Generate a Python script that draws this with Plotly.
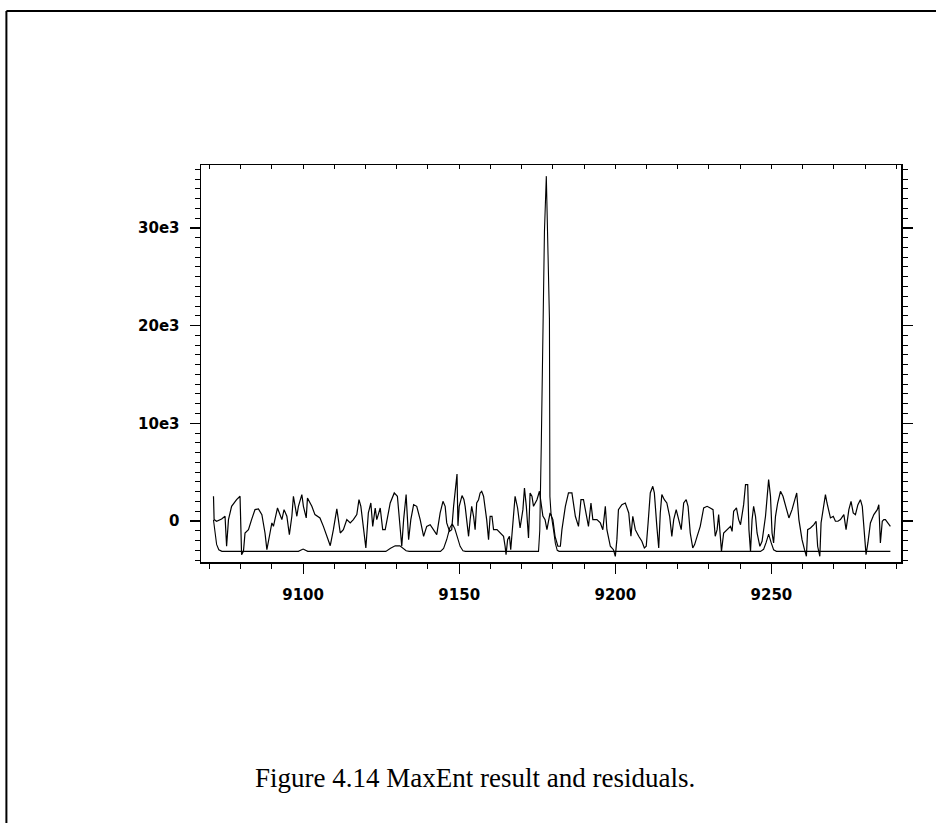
import plotly.graph_objects as go

# ---- data ----
res_x = [9071.3, 9071.5, 9072.3, 9073.9, 9075.0, 9075.5, 9076.1, 9077.1, 9078.7, 9079.8,
         9080.3, 9080.9, 9081.4, 9082.5, 9083.5, 9084.6, 9085.7, 9086.8, 9087.8, 9088.4,
         9089.4, 9090.0, 9090.5, 9091.3, 9091.8, 9092.4, 9093.2, 9093.9, 9094.8, 9095.6,
         9096.4, 9096.9, 9097.4, 9098.0, 9098.5, 9099.6, 9100.1, 9101.0, 9101.4, 9102.0,
         9102.8, 9103.8, 9105.4, 9106.5, 9107.6, 9108.7, 9109.7, 9110.8, 9111.3, 9111.9,
         9112.9, 9114.0, 9115.1, 9116.1, 9117.2, 9117.9, 9118.5, 9119.3, 9120.1, 9120.9,
         9121.7, 9122.3, 9123.1, 9123.6, 9124.7, 9125.5, 9126.3, 9127.9, 9129.2, 9130.2,
         9131.1, 9131.6, 9132.2, 9133.0, 9133.2, 9133.8, 9134.5, 9135.4, 9136.4, 9137.5,
         9138.6, 9139.6, 9140.7, 9141.8, 9142.8, 9143.9, 9144.8, 9145.5, 9146.0, 9146.9,
         9147.6, 9148.2, 9148.9, 9149.3, 9149.6, 9150.0, 9150.9, 9151.5, 9151.9, 9153.0,
         9153.5, 9154.0, 9154.6, 9155.1, 9155.6, 9156.2, 9156.7, 9157.2, 9157.8, 9158.3,
         9158.8, 9159.4, 9159.9, 9160.5, 9161.0, 9162.1, 9163.1, 9164.2, 9164.7, 9165.0,
         9165.5, 9166.1, 9166.5, 9167.2, 9167.9, 9168.7, 9169.5, 9170.4, 9170.9, 9171.5,
         9172.2, 9172.7, 9173.3, 9173.8, 9174.3, 9174.9, 9175.7, 9176.2, 9176.8, 9177.5,
         9178.1, 9179.1, 9180.0, 9180.7, 9181.6, 9182.4, 9182.9, 9184.0, 9185.0, 9186.1,
         9187.2, 9188.2, 9189.0, 9189.8, 9190.7, 9191.4, 9192.2, 9192.8, 9194.1, 9195.2,
         9196.0, 9196.8, 9197.3, 9198.4, 9199.4, 9200.0, 9200.5, 9201.0, 9202.1, 9203.2,
         9204.3, 9205.0, 9205.6, 9206.4, 9207.5, 9208.5, 9209.3, 9209.9, 9210.5, 9211.2,
         9212.0, 9212.5, 9213.3, 9213.9, 9214.4, 9214.9, 9215.7, 9216.5, 9217.4, 9218.1,
         9218.7, 9219.5, 9220.3, 9221.1, 9221.9, 9222.7, 9223.3, 9224.0, 9224.8, 9225.4,
         9226.2, 9227.2, 9228.3, 9229.4, 9230.4, 9231.3, 9232.0, 9232.6, 9233.1, 9233.6,
         9234.0, 9234.7, 9235.8, 9236.9, 9237.4, 9237.9, 9238.8, 9239.5, 9240.1, 9240.6,
         9241.1, 9241.7, 9242.4, 9242.8, 9243.3, 9243.8, 9244.3, 9244.9, 9245.4, 9246.3,
         9247.0, 9248.1, 9248.8, 9249.1, 9249.7, 9250.2, 9250.7, 9251.3, 9252.0, 9252.9,
         9253.7, 9254.5, 9255.6, 9256.6, 9257.4, 9258.1, 9258.8, 9259.8, 9260.6, 9261.2,
         9261.6, 9262.5, 9263.6, 9264.3, 9264.8, 9265.5, 9265.9, 9266.6, 9267.3, 9267.8,
         9268.9, 9269.8, 9270.5, 9271.3, 9272.1, 9273.2, 9273.9, 9274.8, 9275.5, 9276.2,
         9276.9, 9277.7, 9278.5, 9279.1, 9279.8, 9280.3, 9280.9, 9281.7, 9282.8, 9283.9,
         9284.4, 9284.9, 9285.5, 9286.0, 9286.5, 9287.3, 9288.1]
res_y = [2530, 140, -30, 200, 480, -2590, 140, 1500, 2180, 2530,
         -3450, -3110, -1230, -890, 140, 1160, 1230, 650, -1230, -2940,
         -1230, -200, -550, 480, 1330, 820, 140, 1160, 480, -1400,
         480, 2530, 1500, 480, 1500, 2700, 1500, 310, 2350, 2010,
         1500, 650, 310, -550, -1570, -2530, -890, 1230, 140, -1230,
         -890, 140, -200, 140, 650, 2180, 1500, -890, -2760, 820,
         1840, -550, 1330, 140, 1330, -890, -890, 1840, 2870, 2530,
         -890, -2590, 140, 2700, 1500, -1910, 140, 1670, 1500, 140,
         -1570, -550, -380, -890, -1400, 820, 2010, 1500, -200, -1060,
         -890, 1500, 3550, 4800, -500, 1500, 2600, 2200, 1500, -1570,
         140, 1500, 480, -890, 1840, 2180, 2870, 3040, 2530, 1500,
         140, -1910, 480, 480, -890, -890, -1230, -1570, -2590, -3450,
         -1910, -1570, -2940, 140, 2530, 1330, -720, 1160, 3380, 1500,
         -1740, 2870, 2530, 1500, 1840, 2180, 3040, 2000, 500, 140,
         -890, 820, 140, -1570, -2590, -2590, -890, 1500, 2870, 2870,
         480, -550, 2180, 2180, 480, -550, 1840, 140, 140, -200,
         -890, 1500, -890, -2590, -2940, -3620, -1910, 1160, 1670, 1840,
         820, -1570, 480, -890, -1570, -2080, -2760, -2590, -200, 2870,
         3550, 2870, -550, -2760, 820, 2700, 2180, 1840, 480, -1570,
         140, 1160, 140, -890, 1840, 2180, 1500, -1230, -2760, -2420,
         -1570, -550, 1330, 1500, 1330, 1160, -1570, -890, 650, -1570,
         -3110, -1230, -890, -550, -1060, 990, 1330, 140, -380, 480,
         1670, 3720, 3720, -890, -3110, 140, 1500, 480, -1230, -2590,
         -2080, 480, 3210, 4230, 2530, -1230, -2250, 480, 1840, 3040,
         2530, 1500, 310, 1160, 2180, 2870, 140, -1910, -2940, -3620,
         -890, -720, -380, -30, -2590, -3620, -200, 1500, 2700, 1840,
         310, 480, -30, -30, 140, 650, -890, 1160, 2010, 820,
         650, 1670, 2180, 1500, -1570, -3450, -2250, -200, 650, 1160,
         1670, -2250, -30, 140, 140, -200, -550]

maxent_x = [9071.3, 9071.7, 9072.3, 9073.0, 9074.0, 9098.5, 9100.0, 9101.5,
            9126.5, 9128.0, 9129.5, 9131.0, 9132.0, 9133.0, 9134.0,
            9144.0, 9145.0, 9146.0, 9147.0, 9147.8, 9148.6, 9149.5, 9150.3, 9151.2, 9152.0,
            9175.4, 9175.8, 9176.3, 9176.8, 9177.3, 9177.9, 9178.3, 9178.9, 9179.05,
            9179.4, 9180.2, 9180.8, 9181.4, 9182.0,
            9246.5, 9247.5, 9248.3, 9249.1, 9249.9, 9250.7, 9251.6, 9288.1]
maxent_y = [100, -1200, -2400, -2950, -3110, -3110, -2870, -3110,
            -3110, -2800, -2550, -2550, -2800, -3050, -3110,
            -3110, -2800, -1900, -700, -300, -800, -1800, -2600, -3050, -3110,
            -3110, -1000, 8000, 20700, 29600, 35300, 30500, 20700, 2500,
            800, -900, -2300, -3000, -3110,
            -3110, -2900, -2200, -1350, -2200, -2950, -3110, -3110]

y_tickvals = [0, 10000, 20000, 30000]
y_ticktext = ["0", "10e3", "20e3", "30e3"]
x_tickvals = [9100, 9150, 9200, 9250]
x_ticktext = ["9100", "9150", "9200", "9250"]

X_RANGE = [9067.3, 9291.5]
Y_RANGE = [-4200, 36440]

tick_font = dict(family="DejaVu Sans", size=15, color="black", weight="bold")

fig = go.Figure()
fig.add_trace(go.Scatter(x=res_x, y=res_y, mode="lines",
                         line=dict(color="black", width=1.2), showlegend=False,
                         hoverinfo="skip"))
fig.add_trace(go.Scatter(x=maxent_x, y=maxent_y, mode="lines",
                         line=dict(color="black", width=1.1), showlegend=False,
                         hoverinfo="skip"))
fig.add_trace(go.Scatter(x=[None], y=[None], xaxis="x2", yaxis="y2",
                         showlegend=False, hoverinfo="skip"))

fig.update_layout(
    width=936, height=823,
    margin=dict(l=201, r=35, t=165, b=261),
    paper_bgcolor="white", plot_bgcolor="white",
    showlegend=False,
    xaxis=dict(range=X_RANGE, showgrid=False, zeroline=False,
               showline=True, linecolor="black", linewidth=1.5,
               tickmode="array", tickvals=x_tickvals, ticktext=x_ticktext,
               ticks="outside", ticklen=10, tickwidth=1.2, tickcolor="black",
               tickfont=tick_font, ticklabelstandoff=8,
               minor=dict(dtick=10, tick0=9100, ticks="outside", ticklen=5,
                          tickwidth=1, tickcolor="black", showgrid=False)),
    yaxis=dict(range=Y_RANGE, showgrid=False, zeroline=False,
               showline=True, linecolor="black", linewidth=1.5,
               tickmode="array", tickvals=y_tickvals, ticktext=y_ticktext,
               ticks="outside", ticklen=10, tickwidth=1.2, tickcolor="black",
               tickfont=tick_font, ticklabelstandoff=7,
               minor=dict(dtick=1000, tick0=0, ticks="outside", ticklen=5,
                          tickwidth=1, tickcolor="black", showgrid=False)),
    xaxis2=dict(range=X_RANGE, overlaying="x", side="top", anchor="y",
                showgrid=False, zeroline=False, showline=True,
                linecolor="black", linewidth=1.5, showticklabels=False,
                tickmode="linear", tick0=9100, dtick=10,
                ticks="inside", ticklen=4, tickwidth=1, tickcolor="black"),
    yaxis2=dict(range=Y_RANGE, overlaying="y", side="right", anchor="x",
                showgrid=False, zeroline=False, showline=True,
                linecolor="black", linewidth=1.5, showticklabels=False,
                tickmode="array", tickvals=y_tickvals,
                ticks="outside", ticklen=10, tickwidth=1.2, tickcolor="black",
                minor=dict(dtick=1000, tick0=0, ticks="outside", ticklen=5,
                           tickwidth=1, tickcolor="black", showgrid=False)),
    annotations=[dict(text="Figure 4.14 MaxEnt result and residuals.",
                      xref="paper", yref="paper", x=0.392, y=-0.50,
                      xanchor="center", yanchor="top", showarrow=False,
                      font=dict(family="Liberation Serif", size=27, color="black"))],
    shapes=[
        dict(type="line", xref="paper", yref="paper", x0=-0.278, x1=1.06,
             y0=1.388, y1=1.388, line=dict(color="black", width=2)),
        dict(type="line", xref="paper", yref="paper", x0=-0.278, x1=-0.278,
             y0=1.388, y1=-0.66, line=dict(color="black", width=2)),
    ],
)

fig.write_html("out.html",
               config={"displayModeBar": False, "staticPlot": True},
               post_script="document.body.style.margin='0';"
                           "document.body.style.overflow='hidden';")
